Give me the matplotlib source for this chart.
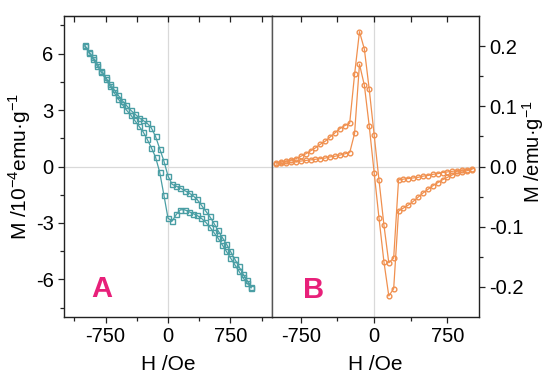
import numpy as np
import matplotlib.pyplot as plt

plt.rcParams['font.family'] = ['Liberation Sans', 'DejaVu Sans']
plt.rcParams['mathtext.fontset'] = 'custom'
plt.rcParams['mathtext.rm'] = 'Liberation Sans'
plt.rcParams['axes.unicode_minus'] = False

# field values (Oe), both panels
H = np.arange(-1000, 1001, 50)

# panel A, M in 1e-4 emu/g, two branches of the loop
mA_upper = [6.45, 6.1, 5.8, 5.45, 5.1, 4.75, 4.4, 4.1, 3.8, 3.5, 3.25,
            3.0, 2.8, 2.6, 2.45, 2.3, 2.05, 1.6, 0.95, 0.3, -0.5,
            -0.95, -1.05, -1.15, -1.28, -1.4, -1.55, -1.75, -2.05, -2.35, -2.65,
            -3.0, -3.4, -3.75, -4.1, -4.5, -4.9, -5.3, -5.7, -6.05, -6.4]
mA_lower = [6.4, 6.05, 5.7, 5.35, 5.0, 4.65, 4.3, 3.95, 3.6, 3.3, 3.0,
            2.75, 2.45, 2.15, 1.85, 1.45, 1.0, 0.5, -0.3, -1.5, -2.75,
            -2.9, -2.55, -2.3, -2.3, -2.4, -2.5, -2.6, -2.75, -2.95, -3.2,
            -3.5, -3.8, -4.15, -4.5, -4.85, -5.2, -5.55, -5.9, -6.2, -6.45]

# panel B, M in emu/g
mB_upper = [0.006, 0.007, 0.009, 0.011, 0.013, 0.017, 0.021, 0.026, 0.031, 0.037, 0.042,
            0.049, 0.056, 0.063, 0.068, 0.072, 0.153, 0.224, 0.195, 0.128, 0.053,
            -0.023, -0.097, -0.16, -0.152, -0.022, -0.021, -0.02, -0.019, -0.018, -0.016,
            -0.015, -0.013, -0.012, -0.010, -0.009, -0.008, -0.007, -0.006, -0.005, -0.004]
mB_lower = [0.004, 0.005, 0.006, 0.007, 0.008, 0.009, 0.010, 0.011, 0.012, 0.013, 0.014,
            0.016, 0.017, 0.019, 0.021, 0.023, 0.055, 0.17, 0.135, 0.067, -0.01,
            -0.086, -0.158, -0.215, -0.203, -0.074, -0.069, -0.064, -0.058, -0.051, -0.044,
            -0.038, -0.032, -0.027, -0.022, -0.018, -0.014, -0.011, -0.009, -0.007, -0.005]

teal = '#4a9ea4'
orange = '#f0904f'
pink = '#e8207a'

fig = plt.figure(figsize=(5.54, 3.75), dpi=100)
axA = fig.add_axes([64/554, 58/375, 208/554, 301/375])
axB = fig.add_axes([272/554, 58/375, 207/554, 301/375])


def style(ax, major, minor):
    ax.axhline(0, color='#d9d9d9', lw=0.9, zorder=0)
    ax.axvline(0, color='#d9d9d9', lw=0.9, zorder=0)
    for s in ax.spines.values():
        s.set_color('#222222')
        s.set_linewidth(1.0)
    ax.set_xticks(major)
    ax.set_xticks(minor, minor=True)
    ax.tick_params(labelsize=14.5, length=4, width=0.9, color='#222222',
                   direction='out')
    ax.tick_params(which='minor', length=3, width=0.9, color='#222222',
                   direction='out')
    ax.set_xlabel('H /Oe', fontsize=15, labelpad=6)
    # inward ticks on the top edge
    top = ax.secondary_xaxis('top')
    top.set_xticks(major + minor)
    top.tick_params(direction='in', length=4, width=0.9, color='#222222',
                    labeltop=False)
    top.spines['top'].set_color('#222222')


# panel A
for m in (mA_upper, mA_lower):
    axA.plot(H, m, color=teal, lw=0.9, marker='s', ms=3.6, mfc='none',
             mec=teal, mew=1.0)
axA.set_xlim(-1250, 1250)
axA.set_ylim(-8, 8)
style(axA, [-750, 0, 750], [-1125, -375, 375, 1125])
axA.set_yticks([-6, -3, 0, 3, 6])
axA.set_yticks([-7.5, -4.5, -1.5, 1.5, 4.5, 7.5], minor=True)
axA.tick_params(axis='y', which='both', right=False)
axA.set_ylabel('M /10$^{-4}$emu·g$^{-1}$', fontsize=15, labelpad=2)
axA.text(-800, -6.5, 'A', color=pink, fontsize=21, fontweight='bold',
         ha='center', va='center')
axA.spines['right'].set_color('#555555')

# panel B
for m in (mB_upper, mB_lower):
    axB.plot(H, m, color=orange, lw=0.9, marker='o', ms=3.4, mfc='none',
             mec=orange, mew=1.0)
axB.set_xlim(-1045, 1073)
axB.set_ylim(-0.25, 0.25)
style(axB, [-750, 0, 750], [-375, 375])
axB.set_yticks([-0.2, -0.1, 0.0, 0.1, 0.2])
axB.set_yticks([-0.15, -0.05, 0.05, 0.15], minor=True)
axB.yaxis.tick_right()
axB.yaxis.set_label_position('right')
axB.tick_params(axis='y', which='both', left=False, right=True)
axB.set_yticklabels(['-0.2', '-0.1', '0.0', '0.1', '0.2'])
axB.set_ylabel('M /emu·g$^{-1}$', fontsize=14.5)
axB.yaxis.set_label_coords(1.2, 0.55)
axB.text(-620, -0.205, 'B', color=pink, fontsize=21, fontweight='bold',
         ha='center', va='center')
axB.spines['left'].set_color('#555555')

fig.savefig('out.png', dpi=100)
